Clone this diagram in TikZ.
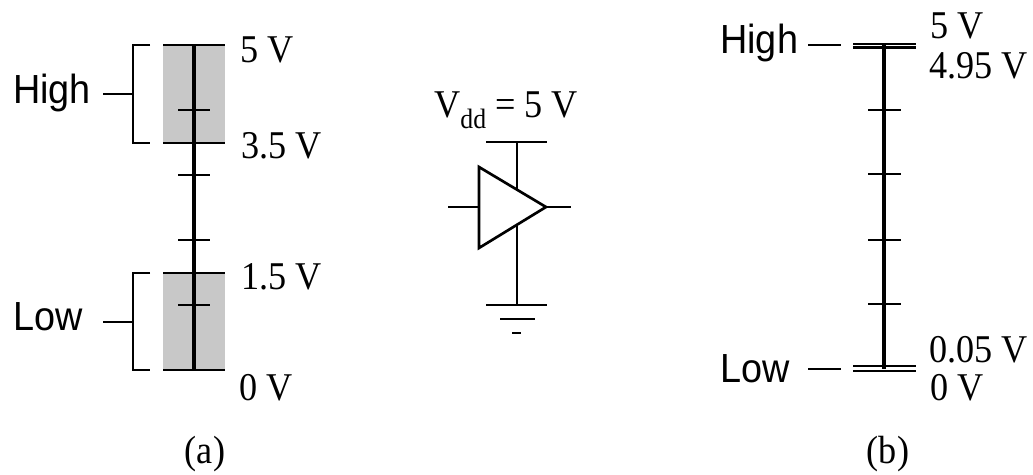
\documentclass[tikz,border=0pt]{standalone}
\usepackage{fontspec}
\setmainfont[FakeStretch=.92]{Liberation Serif}
\newfontfamily\labfont[FakeStretch=.93]{Liberation Sans}
\usetikzlibrary{positioning}
\definecolor{bandgray}{RGB}{200,200,200}
\tikzset{
  volt/.style={anchor=base west,inner sep=0pt,font=\fontsize{29.5}{32}\selectfont},
  level/.style={anchor=base west,inner sep=0pt,font=\labfont\fontsize{30.5}{32}\selectfont},
  capt/.style={anchor=base,inner sep=0pt,font=\fontsize{29.5}{32}\selectfont},
  axisline/.style={line width=3.3pt},
  tickline/.style={line width=1.5pt},
  barline/.style={line width=2pt},
  wire/.style={line width=1.6pt}
}
\begin{document}
\begin{tikzpicture}[x=.75pt,y=-.75pt]
\useasboundingbox (0,0) rectangle (1033,475);
% part a
\fill[bandgray] (163,45) rectangle (225,143);
\fill[bandgray] (163,273) rectangle (225,370);
\coordinate (atop) at (194,45);
\coordinate (abot) at (194,370);
\draw[axisline] (atop)--(abot);
\foreach \y in {110,175,240,305} {\draw[tickline] (178,\y)--(210,\y);}
\foreach \y in {45,143,273,370} {\draw[barline] (163,\y)--(225,\y);}
\draw[tickline] (150,45)--(133,45)--(133,143)--(150,143);
\draw[tickline] (103,94)--(133,94);
\draw[tickline] (150,273)--(133,273)--(133,370)--(150,370);
\draw[tickline] (103,321.5)--(133,321.5);
\node[level] (higha) at (13,103) {High};
\node[level] (lowa) at (13,330) {Low};
\node[volt] (afive) at (240,62) {5 V};
\node[volt] (ahi) at (241,158) {3.5 V};
\node[volt] (alo) at (241,289) {1.5 V};
\node[volt] (azero) at (239,400) {0 V};
\node[capt] (capa) at (205,463) {(a)};
% inverter
\node[volt] (vdd) at (434,117) {V\raisebox{-.28em}{\fontsize{21}{22}\selectfont dd} = 5 V};
\coordinate (tria) at (479,167);
\coordinate (trib) at (479,248);
\coordinate (tric) at (546,207);
\draw[line width=2pt] (tria)--(tric)--(trib)--cycle;
\draw[wire] (448,207)--(479,207);
\draw[wire] (tric)--(571,207);
\draw[wire] (517,142)--(517,189.7);
\draw[wire] (517,224.7)--(517,305);
\draw[wire] (486,142)--(547,142);
\draw[wire] (486,305)--(547,305);
\draw[barline] (500,319)--(535,319);
\draw[barline] (512,333)--(521,333);
% part b
\coordinate (btop) at (884,45);
\coordinate (bbot) at (884,369);
\draw[axisline] (btop)--(bbot);
\foreach \y in {110,174,240,304} {\draw[tickline] (868,\y)--(901,\y);}
\foreach \y in {44,47.5,366,371} {\draw[barline] (853,\y)--(916,\y);}
\draw[tickline] (808,45)--(841,45);
\draw[tickline] (808,369)--(841,369);
\node[level] (highb) at (720,53) {High};
\node[level] (lowb) at (720,382) {Low};
\node[volt] (bfive) at (930,38) {5 V};
\node[volt] (bhi) at (929,78) {4.95 V};
\node[volt] (blo) at (929,362) {0.05 V};
\node[volt] (bzero) at (930,400) {0 V};
\node[capt] (capb) at (888,463) {(b)};
\end{tikzpicture}
\end{document}
